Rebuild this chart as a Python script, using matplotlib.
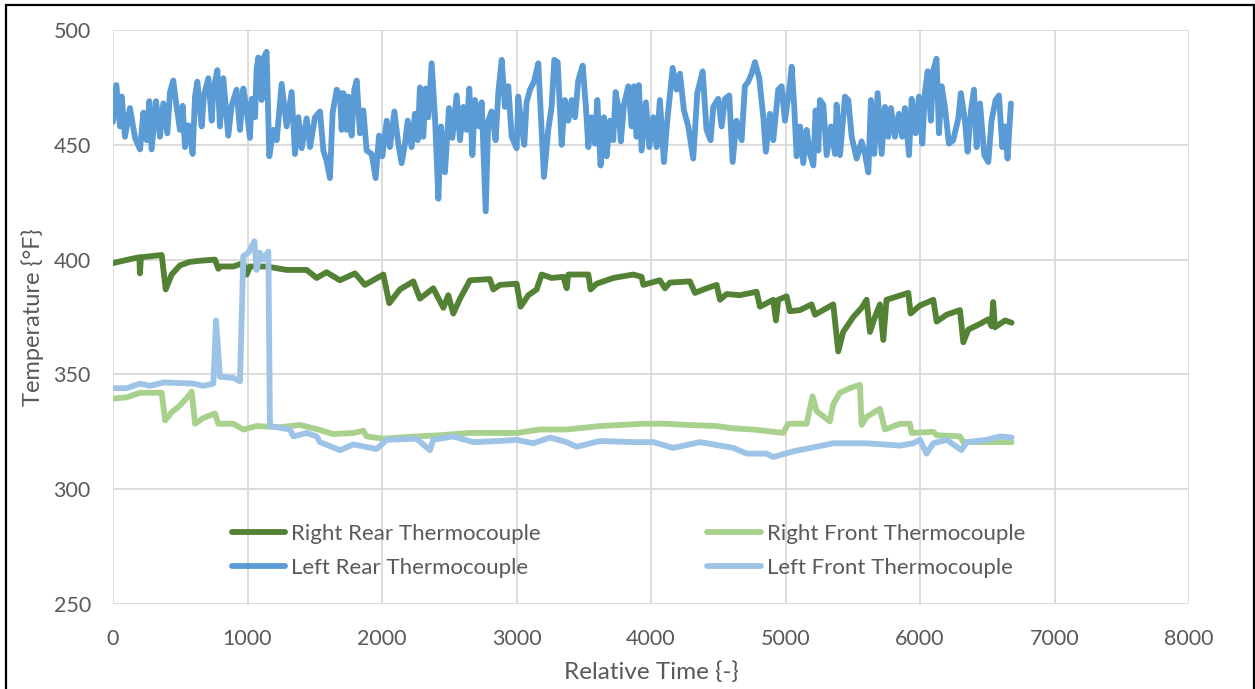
import matplotlib
matplotlib.use("Agg")
import matplotlib.pyplot as plt
from matplotlib.patches import Rectangle

# ---------------- data ----------------
lr_time = [0,25,52,65,89,126,164,201,226,250,
           270,287,320,349,374,404,424,448,473,498,
           518,535,560,592,610,627,659,676,709,734,
           746,776,795,820,857,882,919,944,969,994,
           1018,1031,1056,1068,1080,1105,1118,1142,1162,1192,
           1217,1254,1291,1328,1353,1378,1403,1440,1465,1502,
           1539,1564,1588,1613,1633,1663,1688,
           1700,1713,1737,1750,1774,1794,1812,1836,1861,1886,
           1923,1953,1978,2002,2035,2059,2092,2121,2146,2171,
           2191,2220,2245,2265,2282,2307,2325,2344,2369,2394,
           2419,2439,2468,2498,2523,2555,2580,2605,2629,2649,
           2672,2691,2721,2741,2771,2790,2815,2845,2865,2890,
           2914,2939,2964,3001,3013,3038,3058,3075,3100,3130,
           3162,3182,3204,3236,3261,3281,3306,3336,3360,
           3385,3410,3435,3459,3492,3516,3534,3558,3583,3601,
           3625,3650,3670,3695,3719,3737,3757,3776,3799,3831,
           3856,3873,3893,3910,3930,3962,3987,4017,4042,4066,
           4096,4121,4161,4190,4215,4245,4277,4314,4344,4384,
           4413,4443,4463,4500,4525,4550,4582,4607,4636,4674,
           4698,4723,4748,4773,4805,4835,4854,4884,4909,4946,
           4971,4996,5033,
           5046,5065,5083,5108,5132,5157,5182,5207,5224,5244,
           5256,5281,5306,5338,5368,5380,5405,5442,5467,5492,
           5529,5566,5591,5616,5635,5660,5685,5715,5739,5764,
           5784,5814,5843,5868,5888,5918,5938,5967,5992,6017,
           6037,6057,6081,6099,6123,6141,6161,6185,6215,6247,
           6285,6304,6334,6354,6379,6401,6421,6446,6478,6508,
           6532,6562,6587,6612,6632,6651,6676]
lr_temp = [460,476,458,471,453.5,466,453,448,464,452,
           469,448,469,453.5,468,455,473,478,466.5,456.5,
           467,449,458.5,446,471,477.5,458,471.5,479,460.5,
           474,482.5,458,479,454,467,474,456.5,474.5,465,
           453,470,462,483,488,469.5,487.5,490.5,445,456.5,
           452,476.5,458,473,446,462,448.5,461.5,449,462,
           464.5,447.5,443,435.5,464,474,472,
           456.5,472.5,456.5,471,454,474,478,455,465,447.5,
           446,435.5,454,445,460.5,449,464.5,450.5,442,450.5,
           460.5,449,463.5,452,475,453.5,474.5,462,485.5,462,
           426.5,458,438,466,453,471.5,452,466.5,456.5,474.5,
           445.5,469.5,458,468.5,421,460.5,464.5,452,473,487,
           466.5,475.5,453.5,448.5,471,458,450,468.5,474,477.5,
           485.5,462,436,456.5,466.5,487,486,450,469.5,
           460.5,469.5,462,478,484.5,466.5,449,462,450.5,469.5,
           441,462,445,460.5,452,473,466.5,451.5,467.5,475.5,
           458,475.5,453.5,476,447.5,468.5,449,462,449,469.5,
           442.5,460.5,483.5,474,481,465,458,444,472.5,482,
           456.5,452,466.5,470,458,470,471.5,442.5,460.5,452,
           475.5,477.5,481,486,479,462,447,463.5,452,474,
           475.5,460.5,476.5,
           484,466.5,445,458,442,456.5,446,441,465,447.5,
           469.5,467.5,445.5,458,446,467.5,445.5,471,469.5,453.5,
           444,451.5,446,438,469.5,446,472.5,446,466.5,453.5,
           466,453.5,463.5,453.5,466,445.5,470,455,471,450.5,
           473,482,460.5,482.5,487.5,455,475.5,466.5,450.5,452,
           461.5,472.5,460.5,447,465,474,449,468,445.5,442.5,
           460.5,469.5,471.5,449,458,444,468]

rr_time = [0,151,196,200,208,362,392,436,498,572,
           647,758,783,800,895,969,994,1018,1142,1291,
           1440,1514,1588,1687,1799,1873,2010,2054,2133,2233,
           2282,2381,2456,2493,2530,2580,2654,2802,2827,2877,
           3001,3031,3088,3150,3187,3261,3348,3373,3385,3534,
           3551,3596,3720,3868,3930,3943,4066,4104,4141,4289,
           4327,4413,4488,4513,4562,4661,4785,4810,4909,4929,
           4946,5008,5033,5107,5194,5219,5355,5392,5429,5504,
           5566,5603,5628,5665,5702,5727,5751,5913,
           5930,5999,6099,6124,6198,6297,6322,6359,6446,6508,
           6532,6544,6557,6570,6632,6681]
rr_temp = [398.5,400.5,401,394,401,402,387,393.5,397.5,399,
           399.5,400,396,397,397,398.5,393.5,397,397,395.5,
           395.5,392,394.5,391,394,389,393.5,381,387,390.5,
           383,387.5,379,384.5,376.5,383,391,391.5,387,389,
           389.5,379.5,384.5,387,393.5,392,392.5,387.5,393.5,393.5,
           387,389.5,392,393.5,392.5,389,391,387.5,390,390.5,
           385.5,387.5,389,382.5,385,384.5,386,379.5,382.5,373.5,
           382.5,384,377.5,378,380.5,376,380.5,360,368.5,375,
           379,382.5,368.5,375,380.5,365,382.5,385.5,
           376.5,380,382.5,373,376,378,364,369.5,372,374,
           371,381.5,370.5,371,373.5,372.5]

rf_time = [0,101,201,362,387,436,498,560,585,610,
           671,758,783,895,969,1068,1241,1390,1526,1638,
           1787,1861,1886,2010,2257,2431,2654,2877,3001,3174,
           3373,3620,3943,4116,4265,4488,4612,4760,4983,5020,
           5157,5201,5231,5330,5355,5404,5479,5553,5566,5603,
           5702,5739,5851,5925,5938,6099,6124,6297,6322,6545,
           6681]
rf_temp = [339.5,340,342,342,330,333.5,336.5,340.5,342.5,328.5,
           331,333,328.5,328.5,326,327.5,327,328,326,324,
           324.5,325.5,323,322,323,323.5,324.5,324.5,324.5,326,
           326,327.5,328.5,328.5,328,327.5,326.5,326,324.5,328.5,
           328.5,340.5,334,329.5,337,342,344,345.5,328,331.5,
           335,326,328.5,328.5,324.5,325,323.5,323,320.5,320.5,
           320.5]

lf_time = [0,101,201,275,374,597,671,746,766,795,
           895,944,969,1006,1051,1068,1093,1117,1155,1167,
           1316,1341,1440,1514,1539,1687,1787,1960,2034,2257,
           2356,2381,2530,2678,2877,3001,3125,3249,3373,3447,
           3620,3868,4017,4166,4364,4612,4711,4859,4909,5058,
           5231,5355,5603,5851,5950,5999,6049,6099,6198,6309,
           6347,6495,6594,6681]
lf_temp = [344,344,346,345,346.5,346,345,346,373.5,349,
           348.5,347,401.5,403,408,395.5,403,400,403.5,327.5,
           326,323,324.5,323,320.5,317,319.5,317.5,321.5,322,
           317,321.5,323,320.5,321,321.5,320,322.5,320.5,318.5,
           321,320.5,320.5,318,320.5,318,315.5,315.5,314,316.5,
           318.5,320,320,319,320,321.5,315.5,320,321.5,317,
           320.5,321.5,323,322.5]

series_names = ["Right Rear Thermocouple", "Right Front Thermocouple",
                "Left Rear Thermocouple", "Left Front Thermocouple"]
x_ticks = [0, 1000, 2000, 3000, 4000, 5000, 6000, 7000, 8000]
y_ticks = [250, 300, 350, 400, 450, 500]

# ---------------- style ----------------
plt.rcParams['font.family'] = ['Lato', 'DejaVu Sans']
W, H = 1255, 689
fig = plt.figure(figsize=(W / 100, H / 100), dpi=100)
fig.patch.set_facecolor('white')

ax_l, ax_r, ax_t, ax_b = 113, 1189, 30, 604
ax = fig.add_axes([ax_l / W, 1 - ax_b / H, (ax_r - ax_l) / W, (ax_b - ax_t) / H])

colors = {
    "Right Rear Thermocouple": "#548235",
    "Right Front Thermocouple": "#A9D18E",
    "Left Rear Thermocouple": "#5B9BD5",
    "Left Front Thermocouple": "#9DC3E6",
}
data = {
    "Right Rear Thermocouple": (rr_time, rr_temp),
    "Right Front Thermocouple": (rf_time, rf_temp),
    "Left Rear Thermocouple": (lr_time, lr_temp),
    "Left Front Thermocouple": (lf_time, lf_temp),
}
lw = 4.2
handles = {}
for name in series_names:
    t, v = data[name]
    h, = ax.plot(t, v, color=colors[name], lw=lw, solid_joinstyle='round',
                 solid_capstyle='round', zorder=3)
    handles[name] = h

ax.set_xlim(0, 8000)
ax.set_ylim(250, 500)
ax.set_xticks(x_ticks)
ax.set_yticks(y_ticks)
ax.grid(True, color='#D9D9D9', lw=1.3, zorder=0)
for s in ax.spines.values():
    s.set_visible(False)
ax.tick_params(length=0, colors='#595959', labelsize=15.5)
ax.tick_params(axis='x', pad=18)
ax.tick_params(axis='y', pad=16)

ax.set_xlabel("Relative Time {-}", fontsize=17.5, color='#595959', labelpad=9)
ax.set_ylabel("Temperature {°F}", fontsize=17, color='#595959', labelpad=7)

order = ["Right Rear Thermocouple", "Left Rear Thermocouple",
         "Right Front Thermocouple", "Left Front Thermocouple"]
leg = ax.legend([handles[n] for n in order], order, ncol=2, frameon=False,
                loc='center', bbox_to_anchor=(628.5 / W, 1 - 551 / H),
                bbox_transform=fig.transFigure, fontsize=16,
                handlelength=2.4, handletextpad=0.28, columnspacing=7.5,
                labelspacing=0.62, borderpad=0)
for txt in leg.get_texts():
    txt.set_color('#595959')

# figure border
fig.patches.append(Rectangle((6 / W, -0.02), (1254 - 6) / W, 1.02 - 5 / H,
                             transform=fig.transFigure, fill=False,
                             edgecolor='black', lw=1.6, zorder=10))

fig.savefig("out.png", dpi=100)
